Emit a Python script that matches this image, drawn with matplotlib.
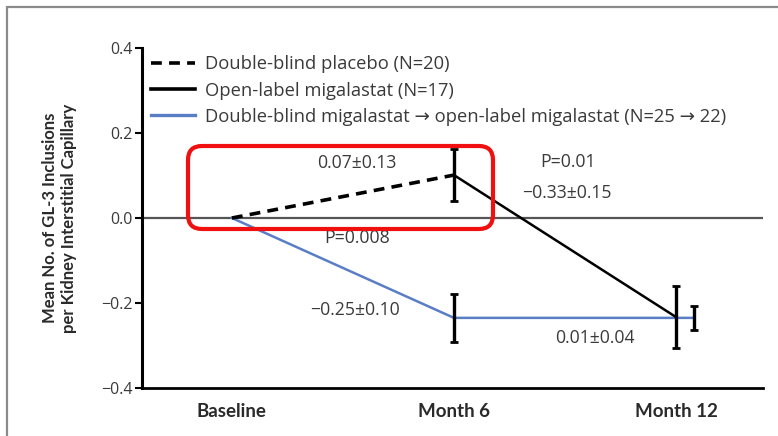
import matplotlib
matplotlib.use("Agg")
import matplotlib.pyplot as plt
from matplotlib.lines import Line2D
from matplotlib.patches import FancyBboxPatch, Rectangle
from matplotlib.transforms import IdentityTransform

plt.rcParams['font.family'] = ['Open Sans', 'DejaVu Sans']

# time points
visits = ['Baseline', 'Month 6', 'Month 12']

# double-blind placebo, baseline -> month 6
placebo_x = [0, 1]
placebo_y = [0.0, 0.101]
placebo_err = [0.0, 0.062]

# placebo patients switched to open-label migalastat, month 6 -> month 12
open_x = [1, 2]
open_y = [0.101, -0.233]
open_err = [0.062, 0.072]

# double-blind migalastat -> open-label migalastat
mig_x = [0, 1, 2.08]
mig_y = [0.0, -0.235, -0.235]
mig_err = [0.0, 0.056, 0.029]

notes = [
    (0.563, 0.129, '0.07\u00b10.13'),
    (0.563, -0.047, 'P=0.008'),
    (0.554, -0.216, '\u22120.25\u00b10.10'),
    (1.514, 0.132, 'P=0.01'),
    (1.509, 0.059, '\u22120.33\u00b10.15'),
    (1.635, -0.282, '0.01\u00b10.04'),
]

fig = plt.figure(figsize=(7.78, 4.36), dpi=100)
ax = fig.add_axes([142/778, 1 - 388/436, (763 - 142)/778, (388 - 48)/436])

txt = '#3a3a3a'
blue = '#5a7ec6'

ax.axhline(0, color='#555555', lw=1.6, zorder=1)

ax.plot(placebo_x, placebo_y, color='black', lw=2.6, ls=(0, (3, 2)), zorder=3)
ax.plot(open_x, open_y, color='black', lw=1.8, zorder=3)
ax.plot(mig_x, mig_y, color=blue, lw=1.8, zorder=2)

ebar = dict(fmt='none', ecolor='black', elinewidth=2.4, capsize=3, capthick=2, zorder=4)
ax.errorbar(placebo_x[1:], placebo_y[1:], yerr=placebo_err[1:], **ebar)
ax.errorbar(open_x[1:], open_y[1:], yerr=open_err[1:], **ebar)
ax.errorbar(mig_x[1:], mig_y[1:], yerr=mig_err[1:], **ebar)

for x, y, s in notes:
    ax.text(x, y, s, ha='center', va='center', fontsize=12.7, color=txt)

ax.set_xlim(-0.405, 2.392)
ax.set_ylim(-0.4, 0.4)
ax.set_yticks([-0.4, -0.2, 0.0, 0.2, 0.4])
ax.set_yticklabels(['\u22120.4', '\u22120.2', '0.0', '0.2', '0.4'])
ax.set_xticks(range(len(visits)))
ax.set_xticklabels(visits, fontweight='bold', fontsize=13.5, color='#2a2a2a',
                   family=['Lato', 'DejaVu Sans'])
ax.tick_params(axis='x', length=0, pad=11)
ax.tick_params(axis='y', direction='out', length=5, width=1.5, labelsize=11.5,
               labelcolor=txt, pad=2)

for side in ['top', 'right']:
    ax.spines[side].set_visible(False)
ax.spines['left'].set_linewidth(2.2)
ax.spines['bottom'].set_linewidth(2.0)

ax.set_ylabel('Mean No. of GL-3 Inclusions\nper Kidney Interstitial Capillary',
              fontweight='bold', fontsize=12, color='#2a2a2a', labelpad=17,
              linespacing=1.25, family=['Lato', 'DejaVu Sans'])

# legend keys are drawn a little heavier than the data lines
handles = [Line2D([], [], color='black', lw=2.6, ls=(0, (3, 2))),
           Line2D([], [], color='black', lw=2.6),
           Line2D([], [], color=blue, lw=2.4)]
ax.legend(handles,
          ['Double-blind placebo (N=20)', 'Open-label migalastat (N=17)',
           'Double-blind migalastat \u2192 open-label migalastat (N=25 \u2192 22)'],
          loc='upper left', bbox_to_anchor=(0.015, 0.978), frameon=False,
          fontsize=13.2, handlelength=2.4, handletextpad=0.52, labelspacing=0.44,
          borderaxespad=0, borderpad=0, labelcolor=txt)

# highlight around the placebo segment
box = FancyBboxPatch((188, 436 - 229), 305, 83,
                     boxstyle='round,pad=0,rounding_size=14',
                     transform=IdentityTransform(), fill=False,
                     edgecolor='#f01010', lw=3.0, zorder=10)
fig.patches.append(box)

# panel frame
frame = Rectangle((7/778, -0.05), 1.1, 1.05 - 7/436, transform=fig.transFigure,
                  fill=False, edgecolor='#8a8a8a', lw=1.6)
fig.patches.append(frame)

fig.savefig('out.png', dpi=100)
